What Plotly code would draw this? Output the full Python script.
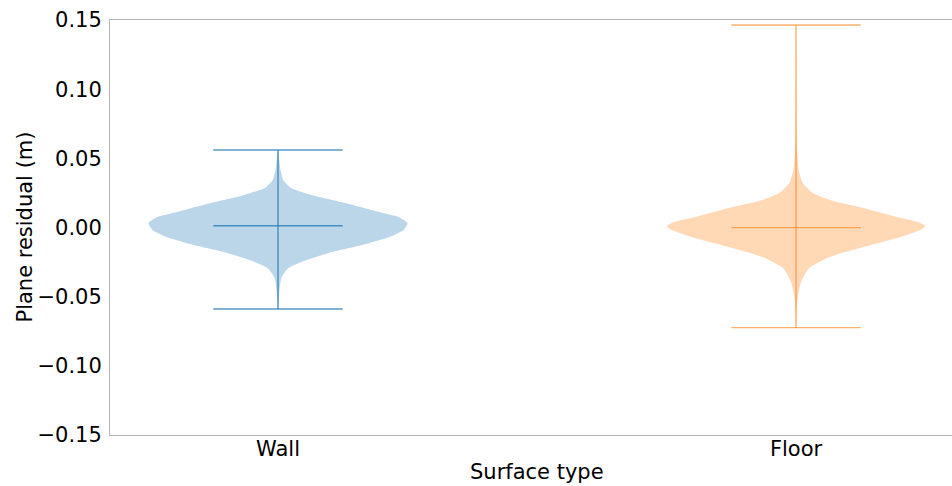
import plotly.graph_objects as go

# Surface categories and their x positions
categories = ["Wall", "Floor"]
positions = [1, 2]

# Density profiles (residual level in m, relative density 0..1)
wall_levels = [0.056, 0.0488, 0.0412, 0.0343, 0.0286, 0.0235, 0.0177, 0.0112,
               0.0076, 0.0033, -0.0018, -0.0069, -0.0127, -0.0184, -0.0249,
               -0.0293, -0.0365, -0.0466, -0.0589]
wall_density = [0.0, 0.01, 0.02, 0.04, 0.10, 0.26, 0.52, 0.78,
                0.93, 1.0, 0.97, 0.86, 0.65, 0.39, 0.18,
                0.08, 0.026, 0.01, 0.0]

floor_levels = [0.1464, 0.1211, 0.0922, 0.0705, 0.056, 0.0416, 0.0322, 0.0249,
                0.0199, 0.0141, 0.0076, 0.004, 0.0011, -0.0018, -0.0076,
                -0.0141, -0.0213, -0.0293, -0.0394, -0.051, -0.0597, -0.0724]
floor_density = [0.0, 0.001, 0.002, 0.004, 0.008, 0.02, 0.052, 0.13,
                 0.26, 0.52, 0.78, 0.94, 1.0, 0.96, 0.78,
                 0.52, 0.26, 0.10, 0.039, 0.012, 0.005, 0.0]

# Summary statistics: minimum, maximum, median
wall_stats = {"min": -0.0589, "max": 0.056, "median": 0.0013}
floor_stats = {"min": -0.0724, "max": 0.1464, "median": -0.0001}

# Tick labels
y_ticks = [-0.15, -0.10, -0.05, 0.0, 0.05, 0.10, 0.15]
y_tick_text = ["\u22120.15", "\u22120.10", "\u22120.05", "0.00", "0.05", "0.10", "0.15"]

violin_width = 0.5
fill_colors = ["rgba(31,119,180,0.3)", "rgba(255,127,14,0.3)"]
line_colors = ["rgba(31,119,180,0.75)", "rgba(255,127,14,0.6)"]

fig = go.Figure()

groups = [(wall_levels, wall_density, wall_stats),
          (floor_levels, floor_density, floor_stats)]

for i, (levels, dens, stats) in enumerate(groups):
    pos = positions[i]
    half = [d * violin_width / 2 for d in dens]
    xs = [pos + h for h in half] + [pos - h for h in reversed(half)]
    ys = list(levels) + list(reversed(levels))
    fig.add_trace(go.Scatter(
        x=xs, y=ys, mode="lines", fill="toself",
        fillcolor=fill_colors[i], line=dict(width=0, shape="spline", smoothing=0.5),
        hoverinfo="skip", showlegend=False))

    cap = violin_width / 4
    seg_x, seg_y = [], []
    for key in ("max", "min", "median"):
        seg_x += [pos - cap, pos + cap, None]
        seg_y += [stats[key], stats[key], None]
    seg_x += [pos, pos, None]
    seg_y += [stats["min"], stats["max"], None]
    fig.add_trace(go.Scatter(
        x=seg_x, y=seg_y, mode="lines",
        line=dict(color=line_colors[i], width=1.4),
        hoverinfo="skip", showlegend=False))

axis_font = dict(family="DejaVu Sans", size=21, color="#000000")
spine = "#b4b4b4"

fig.update_layout(
    width=952, height=486,
    margin=dict(l=110, r=0, t=20, b=51),
    paper_bgcolor="white", plot_bgcolor="white",
    font=axis_font,
    xaxis=dict(
        range=[0.6757, 2.301], tickvals=positions, ticktext=categories,
        showgrid=False, zeroline=False, showline=True, linecolor=spine,
        linewidth=1, mirror=True, ticks="", tickfont=axis_font,
        ticklabelstandoff=-5),
    yaxis=dict(
        range=[-0.15, 0.15], tickvals=y_ticks, ticktext=y_tick_text,
        showgrid=False, zeroline=False, showline=True, linecolor=spine,
        linewidth=1, ticks="", tickfont=axis_font, ticklabelstandoff=3),
    annotations=[
        dict(text="Surface type", xref="paper", yref="paper",
             x=0.507, y=-0.089, xanchor="center", yanchor="middle",
             showarrow=False, font=axis_font),
        dict(text="Plane residual (m)", xref="paper", yref="paper",
             x=-0.1021, y=0.5, xanchor="center", yanchor="middle",
             textangle=-90, showarrow=False, font=axis_font),
    ],
)

fig.write_html("out.html")
